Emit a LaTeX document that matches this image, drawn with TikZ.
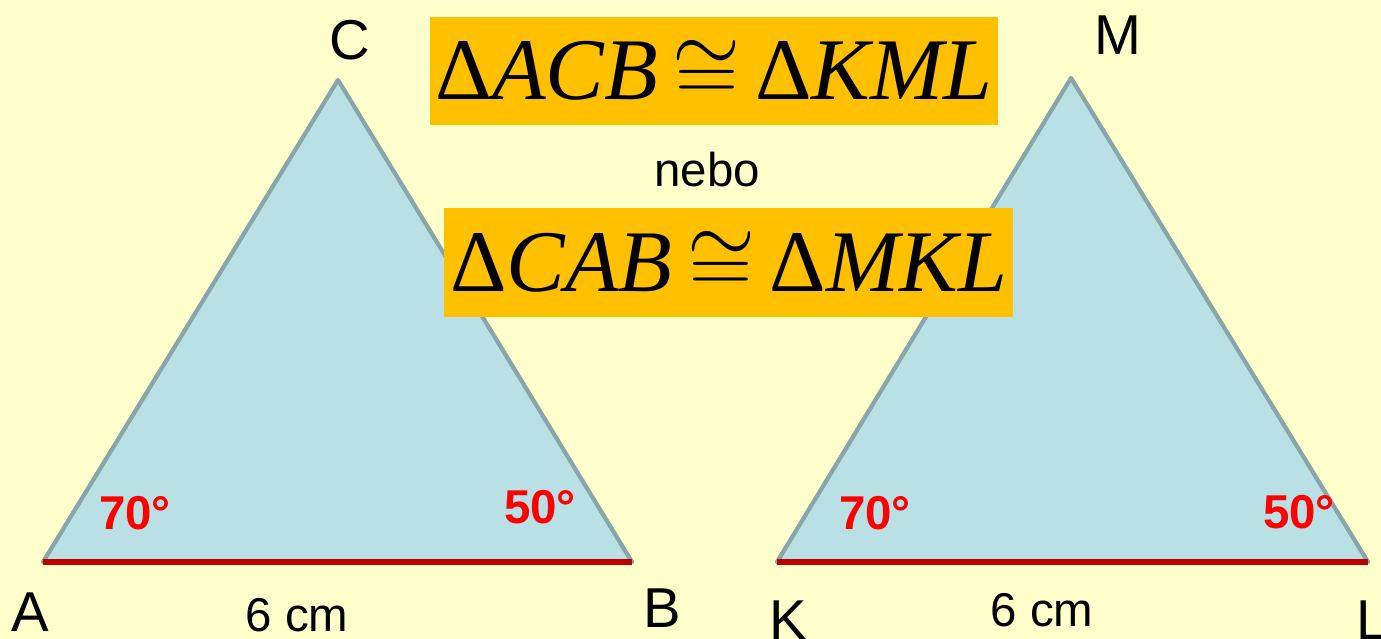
\documentclass[tikz,border=0pt]{standalone}
\usepackage{fontspec}
\setmainfont{Liberation Sans}
\newfontfamily\timesf{Liberation Serif}
\definecolor{bgyellow}{HTML}{FFFFCC}
\definecolor{trifill}{HTML}{B9E0E4}
\definecolor{triedge}{HTML}{88A5A9}
\definecolor{basered}{HTML}{C00000}
\definecolor{boxorange}{HTML}{FFC000}
\begin{document}
\begin{tikzpicture}[
		tri/.style = {fill=trifill, draw=triedge, line width=1.2pt, line join=round},
		base/.style = {draw=basered, line width=1.8pt},
		v/.style = {font=\fontsize{16}{18}\selectfont, inner sep=0pt},
		ang/.style = {text=red, font=\fontsize{13.5}{16}\selectfont\bfseries, inner sep=0pt},
		len/.style = {font=\fontsize{13.5}{16}\selectfont, inner sep=0pt},
		rel/.style = {fill=boxorange, inner sep=0pt, font=\timesf\fontsize{25}{30}\selectfont},
		]
		
		\useasboundingbox (0, 0) rectangle (13.81, -6.39);
		\fill[bgyellow] (0, 0) rectangle (13.81, -6.39);
		
		%Vertices
		\coordinate	(A)	at	(0.43, -5.62);
		\coordinate	(B)	at	(6.32, -5.62);
		\coordinate	(C)	at	(3.38, -0.80);
		\coordinate	(K)	at	(7.77, -5.62);
		\coordinate	(L)	at	(13.68, -5.62);
		\coordinate	(M)	at	(10.71, -0.78);
		
		%Triangles
		\filldraw[tri]	(A) -- (B) -- (C) -- cycle;
		\filldraw[tri]	(K) -- (L) -- (M) -- cycle;
		\draw[base]	(A) -- (B);
		\draw[base]	(K) -- (L);
		
		%Labels
		\node[v]	(lA)	at	(0.30, -6.12)	{A};
		\node[v]	(lB)	at	(6.62, -6.08)	{B};
		\node[v]	(lC)	at	(3.50, -0.40)	{C};
		\node[v]	(lK)	at	(7.88, -6.20)	{K};
		\node[v]	(lL)	at	(13.72, -6.20)	{L};
		\node[v]	(lM)	at	(11.18, -0.35)	{M};
		
		\node[ang]	(a1)	at	(1.35, -5.13)	{70°};
		\node[ang]	(b1)	at	(5.40, -5.07)	{50°};
		\node[ang]	(k1)	at	(8.75, -5.13)	{70°};
		\node[ang]	(l1)	at	(12.99, -5.12)	{50°};
		
		\node[len]	(ab)	at	(2.97, -6.15)	{6 cm};
		\node[len]	(kl)	at	(10.42, -6.10)	{6 cm};
		
		%Relations
		\node[len, anchor=base]	(usu)	at	(7.09, 0.005)	{usu};
		\node[rel, minimum width=5.68cm, minimum height=1.08cm]	(r1)	at	(7.14, -0.71)
			{Δ\textit{ACB}\,$\cong$\,Δ\textit{KML}};
		\node[len]	(nebo)	at	(7.07, -1.70)	{nebo};
		\node[rel, minimum width=5.69cm, minimum height=1.09cm]	(r2)	at	(7.285, -2.625)
			{Δ\textit{CAB}\,$\cong$\,Δ\textit{MKL}};
		
	\end{tikzpicture}
\end{document}
